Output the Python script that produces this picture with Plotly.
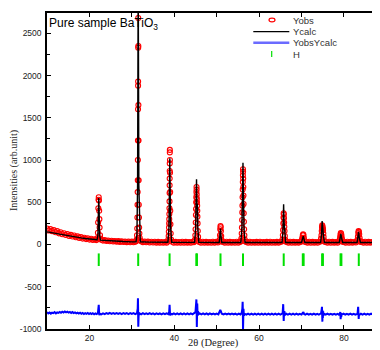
import plotly.graph_objects as go

# ---------------- observed pattern (2theta, intensity) ----------------
tt_obs = [
    10.0, 10.4, 10.8, 11.2, 11.6, 12.0, 12.4, 12.8, 13.2, 13.6, 14.0, 14.4, 14.8, 15.2, 15.6, 16.0, 16.4, 16.8, 17.2, 17.6, 18.0, 18.4, 18.8, 19.2, 19.6, 20.0, 20.4, 20.8, 21.2, 21.6,
    21.8, 21.9, 22.0, 22.05, 22.1, 22.15, 22.2, 22.25, 22.3, 22.35, 22.4, 22.5, 22.6,
    22.8, 23.2, 23.6, 24.0, 24.4, 24.8, 25.2, 25.6, 26.0, 26.4, 26.8, 27.2, 27.6, 28.0, 28.4, 28.8, 29.2, 29.6, 30.0, 30.4, 30.8,
    31.0, 31.15, 31.22, 31.27, 31.31, 31.34, 31.37, 31.4, 31.42, 31.44, 31.46, 31.47, 31.48, 31.5, 31.51, 31.53, 31.55, 31.58, 31.61, 31.64, 31.68, 31.72, 31.78, 31.85, 31.95,
    32.2, 32.6, 33.0, 33.4, 33.8, 34.2, 34.6, 35.0, 35.4, 35.8, 36.2, 36.6, 37.0, 37.4, 37.8, 38.2,
    38.5, 38.6, 38.68, 38.72, 38.76, 38.79, 38.82, 38.84, 38.86, 38.88, 38.9, 38.91, 38.92, 38.93, 38.94, 38.95, 38.96, 38.98, 39.0, 39.03, 39.06, 39.1, 39.16, 39.25,
    39.5, 39.9, 40.3, 40.7, 41.1, 41.5, 41.9, 42.3, 42.7, 43.1, 43.5, 43.9, 44.3, 44.6,
    44.8, 44.9, 44.97, 45.02, 45.06, 45.1, 45.13, 45.16, 45.19, 45.22, 45.25, 45.27, 45.3, 45.33, 45.36, 45.4, 45.43, 45.46, 45.5, 45.55, 45.62, 45.72,
    45.9, 46.3, 46.7, 47.1, 47.5, 47.9, 48.3, 48.7, 49.1, 49.5, 49.9, 50.3,
    50.6, 50.7, 50.78, 50.84, 50.9, 50.95, 51.0, 51.06, 51.14, 51.25,
    51.5, 51.9, 52.3, 52.7, 53.1, 53.5, 53.9, 54.3, 54.7, 55.1, 55.5,
    55.7, 55.82, 55.9, 55.95, 56.0, 56.04, 56.07, 56.1, 56.13, 56.16, 56.18, 56.2, 56.22, 56.25, 56.28, 56.31, 56.34, 56.38, 56.42, 56.47, 56.53, 56.62, 56.75,
    57.0, 57.4, 57.8, 58.2, 58.6, 59.0, 59.4, 59.8, 60.2, 60.6, 61.0, 61.4, 61.8, 62.2, 62.6, 63.0, 63.4, 63.8, 64.2, 64.6, 65.0,
    65.35, 65.5, 65.6, 65.66, 65.71, 65.75, 65.79, 65.83, 65.87, 65.91, 65.95, 66.0, 66.07, 66.16, 66.3,
    66.5, 66.9, 67.3, 67.7, 68.1, 68.5, 68.9, 69.3, 69.7,
    69.95, 70.1, 70.2, 70.3, 70.38, 70.46, 70.55, 70.65, 70.8,
    71.0, 71.4, 71.8, 72.2, 72.6, 73.0, 73.4, 73.8, 74.2,
    74.45, 74.6, 74.7, 74.77, 74.83, 74.88, 74.93, 74.98, 75.03, 75.08, 75.14, 75.2, 75.3, 75.45,
    75.7, 76.1, 76.5, 76.9, 77.3, 77.7, 78.1, 78.5,
    78.85, 79.0, 79.1, 79.18, 79.26, 79.34, 79.42, 79.52, 79.65, 79.8,
    80.0, 80.4, 80.8, 81.2, 81.6, 82.0, 82.4, 82.8,
    83.05, 83.2, 83.3, 83.38, 83.45, 83.52, 83.6, 83.7, 83.82, 83.95,
    84.2, 84.6, 85.0, 85.4, 85.8, 86.2, 86.6, 87.0, 87.3,
    87.45, 87.58, 87.68, 87.78, 87.9, 88.05,
    88.3, 88.5,
]
y_obs = [
    190, 165, 182, 158, 170, 145, 158, 132, 145, 122, 134, 112, 124, 102, 114, 94, 106, 86, 96, 78, 88, 70, 80, 64, 74, 58, 68, 54, 62, 52,
    58, 75, 140, 260, 430, 530, 560, 520, 400, 300, 200, 110, 70,
    56, 46, 52, 42, 48, 38, 45, 36, 42, 33, 40, 31, 38, 29, 36, 28, 35, 27, 34, 26, 33,
    40, 60, 110, 190, 320, 470, 620, 760, 1000, 1230, 1600, 1880, 1930, 2330, 2680, 2350, 1650, 1230, 760, 470, 320, 200, 130, 80, 50,
    38, 28, 36, 26, 34, 24, 33, 23, 32, 22, 31, 21, 30, 21, 30, 22,
    35, 60, 100, 150, 200, 250, 300, 360, 430, 510, 610, 700, 780, 870, 960, 1090, 1120, 1000, 850, 620, 400, 240, 130, 60,
    32, 22, 31, 20, 30, 21, 32, 20, 31, 22, 30, 21, 32, 26,
    40, 60, 110, 180, 260, 350, 420, 500, 560, 620, 680, 650, 590, 540, 500, 460, 400, 330, 250, 160, 90, 45,
    30, 21, 32, 20, 31, 22, 30, 21, 32, 20, 31, 24,
    35, 55, 110, 180, 218, 205, 160, 100, 55, 35,
    30, 21, 32, 20, 31, 22, 30, 21, 32, 20, 30,
    40, 70, 130, 200, 290, 380, 460, 560, 650, 740, 820, 890, 860, 780, 680, 580, 480, 370, 270, 180, 110, 60, 35,
    31, 21, 32, 20, 30, 22, 31, 20, 32, 21, 30, 22, 31, 20, 32, 21, 30, 22, 31, 20, 30,
    35, 60, 110, 170, 250, 320, 370, 355, 310, 260, 210, 160, 100, 55, 35,
    30, 21, 32, 20, 31, 22, 30, 21, 31,
    35, 55, 80, 110, 120, 112, 80, 50, 32,
    30, 21, 32, 20, 31, 22, 30, 21, 32,
    35, 70, 110, 160, 200, 226, 215, 195, 185, 170, 130, 90, 50, 32,
    30, 21, 32, 20, 31, 22, 30, 22,
    35, 55, 85, 115, 135, 128, 105, 70, 42, 30,
    31, 21, 32, 20, 31, 22, 30, 24,
    35, 60, 95, 135, 158, 150, 120, 75, 42, 30,
    31, 21, 32, 20, 31, 22, 30, 21, 30,
    35, 50, 60, 55, 40, 30,
    31, 22,
]

# ---------------- calculated pattern ----------------
tt_calc = [10.0, 11.0, 12.0, 13.0, 14.0, 15.0, 16.0, 17.0, 18.0, 19.0, 20.0, 21.0, 21.8,
           22.0, 22.1, 22.2, 22.3, 22.4, 22.6, 24.0, 26.0, 28.0, 30.0, 31.0,
           31.2, 31.35, 31.45, 31.5, 31.55, 31.65, 31.8, 32.0, 34.0, 36.0, 38.5,
           38.75, 38.88, 38.95, 39.02, 39.15, 39.4, 42.0, 44.8,
           45.05, 45.2, 45.25, 45.3, 45.36, 45.45, 45.55, 45.8, 50.6,
           50.8, 50.9, 51.0, 51.2, 55.7,
           55.95, 56.1, 56.2, 56.3, 56.45, 56.7, 65.4,
           65.62, 65.78, 65.88, 66.0, 66.25, 70.0,
           70.25, 70.4, 70.55, 70.8, 74.5,
           74.72, 74.86, 74.94, 75.04, 75.16, 75.4, 78.9,
           79.15, 79.28, 79.42, 79.7, 83.1,
           83.32, 83.46, 83.6, 83.9, 87.4,
           87.68, 87.95, 88.5]
y_calc = [150, 140, 130, 120, 110, 101, 93, 85, 78, 71, 65, 60, 56,
          110, 380, 550, 380, 110, 52, 46, 40, 35, 31, 32,
          120, 700, 2400, 3100, 2400, 700, 120, 32, 28, 26, 26,
          200, 700, 1020, 700, 200, 26, 25, 25,
          200, 600, 773, 560, 420, 480, 200, 25, 24,
          110, 190, 110, 24, 24,
          200, 650, 968, 600, 180, 24, 24,
          150, 476, 280, 130, 24, 24,
          70, 100, 70, 24, 24,
          120, 277, 170, 210, 110, 24, 24,
          90, 125, 80, 24, 24,
          100, 150, 85, 24, 24,
          55, 24, 24]

# ---------------- difference (offset) ----------------
tt_diff = [
    10.0, 10.3, 10.6, 10.9, 11.2, 11.5, 11.8, 12.1, 12.4, 12.7, 13.0, 13.3, 13.6, 13.9, 14.2, 14.5, 14.8, 15.1, 15.4, 15.7, 16.0, 16.3, 16.6, 16.9, 17.2, 17.5, 17.8, 18.1, 18.4, 18.7, 19.0, 19.3, 19.6, 19.9, 20.2, 20.5, 20.8, 21.1, 21.4, 21.7, 22.0,
    22.1, 22.2, 22.27, 22.33, 22.45,
    22.8, 23.2, 23.6, 24.0, 24.4, 24.8, 25.2, 25.6, 26.0, 26.4, 26.8, 27.2, 27.6, 28.0, 28.4, 28.8, 29.2, 29.6, 30.0, 30.4, 30.8, 31.2,
    31.38, 31.44, 31.48, 31.5, 31.52, 31.56, 31.62, 31.7, 31.8,
    32.2, 32.6, 33.0, 33.4, 33.8, 34.2, 34.6, 35.0, 35.4, 35.8, 36.2, 36.6, 37.0, 37.4, 37.8, 38.2, 38.6,
    38.8, 38.9, 38.96, 39.02, 39.15,
    39.5, 39.9, 40.3, 40.7, 41.1, 41.5, 41.9, 42.3, 42.7, 43.1, 43.5, 43.9, 44.3, 44.7,
    45.0, 45.15, 45.22, 45.27, 45.32, 45.36, 45.42, 45.5, 45.6, 45.75,
    46.0, 46.4, 46.8, 47.2, 47.6, 48.0, 48.4, 48.8, 49.2, 49.6, 50.0, 50.4,
    50.7, 50.85, 51.0, 51.2,
    51.6, 52.0, 52.4, 52.8, 53.2, 53.6, 54.0, 54.4, 54.8, 55.2, 55.6,
    55.9, 56.05, 56.12, 56.17, 56.21, 56.25, 56.32, 56.42, 56.6,
    57.0, 57.4, 57.8, 58.2, 58.6, 59.0, 59.4, 59.8, 60.2, 60.6, 61.0, 61.4, 61.8, 62.2, 62.6, 63.0, 63.4, 63.8, 64.2, 64.6, 65.0, 65.4,
    65.55, 65.68, 65.75, 65.8, 65.86, 65.95, 66.1,
    66.4, 66.8, 67.2, 67.6, 68.0, 68.4, 68.8, 69.2, 69.6, 70.0,
    70.2, 70.35, 70.45, 70.6,
    70.9, 71.3, 71.7, 72.1, 72.5, 72.9, 73.3, 73.7, 74.1, 74.4,
    74.6, 74.75, 74.82, 74.87, 74.92, 74.97, 75.03, 75.1, 75.2, 75.35,
    75.7, 76.1, 76.5, 76.9, 77.3, 77.7, 78.1, 78.5, 78.8,
    79.0, 79.15, 79.22, 79.28, 79.35, 79.45, 79.6,
    79.9, 80.3, 80.7, 81.1, 81.5, 81.9, 82.3, 82.7, 83.0,
    83.2, 83.35, 83.42, 83.48, 83.56, 83.7,
    84.0, 84.4, 84.8, 85.2, 85.6, 86.0, 86.4, 86.8, 87.2,
    87.5, 87.65, 87.75, 87.9,
    88.2, 88.5,
]
y_diff = [
    -800, -815, -805, -818, -806, -812, -800, -815, -803, -810, -798, -808, -795, -805, -792, -803, -795, -806, -798, -810, -800, -812, -804, -815, -806, -818, -808, -820, -810, -822, -812, -820, -810, -822, -812, -824, -814, -825, -815, -824, -812,
    -760, -714, -790, -838, -818,
    -826, -814, -824, -812, -822, -810, -820, -811, -821, -812, -822, -813, -823, -812, -822, -813, -823, -812, -822, -813, -823, -815,
    -760, -635, -760, -900, -972, -860, -800, -835, -815,
    -826, -812, -824, -814, -825, -813, -824, -814, -826, -815, -825, -814, -826, -815, -825, -814, -824,
    -800, -714, -790, -840, -818,
    -826, -815, -826, -816, -826, -815, -827, -816, -826, -815, -826, -816, -826, -815,
    -800, -700, -650, -760, -976, -820, -700, -830, -790, -825,
    -816, -827, -816, -827, -816, -828, -816, -827, -817, -828, -817, -827,
    -800, -775, -790, -820,
    -828, -817, -828, -817, -828, -818, -828, -817, -829, -818, -828,
    -810, -760, -679, -780, -1010, -860, -760, -840, -820,
    -829, -818, -829, -818, -829, -818, -829, -819, -829, -818, -830, -819, -829, -818, -830, -819, -829, -818, -830, -819, -829, -818,
    -815, -706, -780, -905, -820, -790, -832,
    -820, -830, -819, -830, -819, -830, -819, -830, -820, -829,
    -815, -798, -800, -822,
    -830, -819, -830, -820, -830, -819, -830, -820, -830, -820,
    -815, -770, -738, -830, -913, -780, -870, -790, -840, -822,
    -830, -819, -830, -820, -831, -820, -830, -820, -830,
    -820, -800, -885, -810, -860, -830, -826,
    -818, -830, -820, -830, -819, -830, -820, -830, -820,
    -820, -738, -800, -880, -820, -832,
    -820, -830, -819, -830, -820, -830, -819, -828, -820,
    -822, -800, -805, -822,
    -815, -812,
]

# ---------------- Bragg positions ----------------
h_pos = [22.2, 31.5, 38.9, 45.2, 45.35, 50.9, 56.2, 65.8, 70.3, 70.5,
         74.85, 75.05, 79.2, 79.4, 83.5, 87.65, 87.85]
h_level = [-180] * len(h_pos)

series_names = ["Yobs", "Ycalc", "YobsYcalc", "H"]
x_tick_vals = [20, 40, 60, 80]
x_tick_text = ["20", "40", "60", "80"]
y_tick_vals = [-1000, -500, 0, 500, 1000, 1500, 2000, 2500]
y_tick_text = ["-1000", "-500", "0", "500", "1000", "1500", "2000", "2500"]

assert len(tt_obs) == len(y_obs)
assert len(tt_calc) == len(y_calc)
assert len(tt_diff) == len(y_diff)

RED = "#ff0000"
BLUE = "#0000ff"
GREEN = "#00e000"
SANS = "Liberation Sans, Arial, sans-serif"
SERIF = "Liberation Serif, Times New Roman, serif"

fig = go.Figure()
fig.add_trace(go.Scatter(x=tt_obs, y=y_obs, mode="markers", name=series_names[0],
                         marker=dict(symbol="circle-open", size=5, color=RED,
                                     line=dict(width=1.1, color=RED))))
fig.add_trace(go.Scatter(x=tt_calc, y=y_calc, mode="lines", name=series_names[1],
                         line=dict(color="black", width=1.4)))
fig.add_trace(go.Scatter(x=tt_diff, y=y_diff, mode="lines", name=series_names[2],
                         line=dict(color=BLUE, width=2)))
fig.add_trace(go.Scatter(x=h_pos, y=h_level, mode="markers", name=series_names[3],
                         xaxis="x2",
                         marker=dict(symbol="line-ns-open", size=9, color=GREEN,
                                     line=dict(width=2, color=GREEN))))

# The page body adds an 8px offset; the figure is sized so that the
# plot area lands at x 47..380, y 13..329 of the window.
XR = [10, 88.5]
fig.update_layout(
    width=372, height=342,
    margin=dict(l=39, r=0, t=5, b=21),
    showlegend=False,
    plot_bgcolor="white", paper_bgcolor="white",
    xaxis=dict(range=XR, tickmode="array", tickvals=x_tick_vals, ticktext=x_tick_text,
               ticks="inside", ticklen=4, tickwidth=1, tickcolor="black",
               minor=dict(dtick=10, tick0=0, ticks="inside", ticklen=4, tickcolor="black"),
               showline=True, linecolor="black", linewidth=1.5, mirror=False,
               showgrid=False, zeroline=False,
               tickfont=dict(family=SANS, size=8.5, color="#222")),
    xaxis2=dict(range=XR, overlaying="x", side="top", anchor="y",
                tickmode="linear", dtick=10, tick0=0, ticks="inside", ticklen=4,
                tickcolor="black", showticklabels=False,
                showline=True, linecolor="black", linewidth=1.5,
                showgrid=False, zeroline=False),
    yaxis=dict(range=[-1000, 2740], tickmode="array", tickvals=y_tick_vals, ticktext=y_tick_text,
               ticks="inside", ticklen=4, tickwidth=1, tickcolor="black",
               minor=dict(dtick=250, tick0=0, ticks="inside", ticklen=3, tickcolor="black"),
               showline=True, linecolor="black", linewidth=1.5, mirror=False,
               showgrid=False, zeroline=False, ticklabelstandoff=2,
               tickfont=dict(family=SANS, size=8.5, color="#222")),
)

# titles
fig.add_annotation(text="Pure sample BaTiO<sub>3</sub>", xref="paper", yref="paper",
                   x=0, y=0.997, xanchor="left", yanchor="top", showarrow=False,
                   font=dict(family=SANS, size=12, color="black"))
fig.add_annotation(text="Intensities (arb.unit)", xref="paper", yref="paper",
                   x=0, y=0.5, xshift=-33, xanchor="center", yanchor="middle",
                   textangle=-90, showarrow=False,
                   font=dict(family=SERIF, size=10, color="#222"))
fig.add_annotation(text="2θ (Degree)", xref="paper", yref="paper",
                   x=0.5, y=0, yshift=-14, xanchor="center", yanchor="middle", showarrow=False,
                   font=dict(family=SERIF, size=10.5, color="#222"))

# legend (drawn as text + symbols); window pixel -> plot-area fraction
px = lambda p: (p - 47) / 333.0
py = lambda p: (329 - p) / 316.0
leg_y = [20, 31.7, 42.7, 54]
for name, yy in zip(series_names, leg_y):
    fig.add_annotation(text=name, xref="paper", yref="paper", x=px(291), y=py(yy),
                       xanchor="left", yanchor="middle", showarrow=False,
                       font=dict(family=SANS, size=9.5, color="#333"))
fig.add_shape(type="circle", xref="paper", yref="paper",
              x0=px(269), x1=px(275), y0=py(18.2), y1=py(21.9),
              line=dict(color=RED, width=1.2))
fig.add_shape(type="line", xref="paper", yref="paper",
              x0=px(253.3), x1=px(289.3), y0=py(31.7), y1=py(31.7),
              line=dict(color="black", width=1.3))
fig.add_shape(type="line", xref="paper", yref="paper",
              x0=px(253.3), x1=px(289.3), y0=py(42.7), y1=py(42.7),
              line=dict(color="#6b6bff", width=2.5))
fig.add_shape(type="line", xref="paper", yref="paper",
              x0=px(271.7), x1=px(271.7), y0=py(51), y1=py(57),
              line=dict(color=GREEN, width=1.2))

fig.write_html("out.html")
